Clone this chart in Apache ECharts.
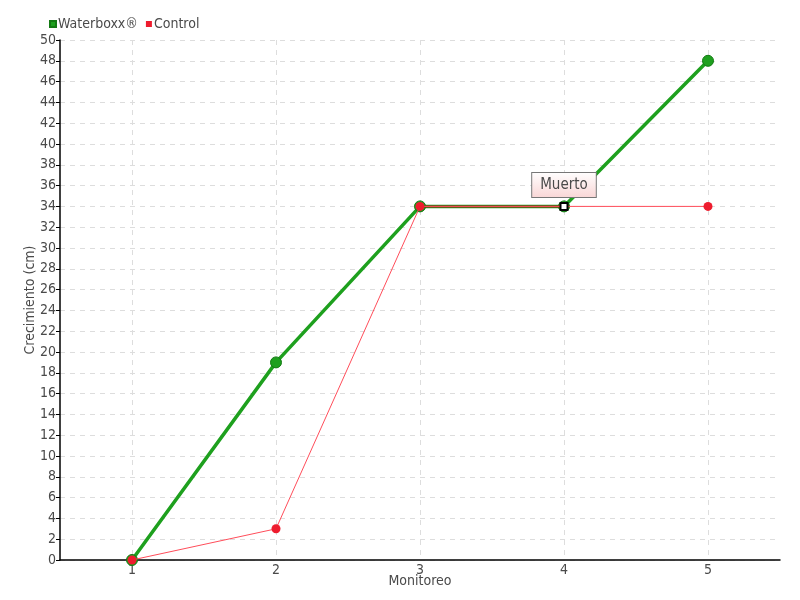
<!DOCTYPE html>
<html><head><meta charset="utf-8">
<script src="https://cdn.jsdelivr.net/npm/echarts@6/dist/echarts.min.js"></script>
<style>html,body{margin:0;padding:0;background:#fff}#c{width:800px;height:600px}</style>
</head><body><div id="c"></div>
<script>
var categories = ['1','2','3','4','5'];
var waterboxx = [0, 19, 34, 34, 48];
var control = [0, 3, 34, 34, 34];
var deadMarker = [null, null, null, 34, null];
var deadLabel = 'Muerto';
var overlap = [null, null, 34, 34, null];

var FONT = 'DejaVu Sans Condensed';
var TXT = '#4a4a4a';
var chart = echarts.init(document.getElementById('c'));
chart.setOption({
  animation: false,
  textStyle: { fontFamily: FONT },
  legend: {
    left: 44, top: 12, itemWidth: 6, itemHeight: 6, itemGap: 8,
    icon: 'rect', textStyle: { fontFamily: FONT, fontSize: 14, color: TXT, padding: [0, 0, 0, -3] },
    data: ['Waterboxx®', 'Control']
  },
  grid: { left: 60, right: 20, top: 40, bottom: 40, containLabel: false },
  xAxis: {
    type: 'category', data: categories, boundaryGap: true,
    name: 'Monitoreo', nameLocation: 'middle', nameGap: 14, nameMoveOverlap: false,
    nameTextStyle: { fontFamily: FONT, fontSize: 14, color: TXT },
    axisLine: { lineStyle: { color: '#000', width: 1.5 } },
    axisTick: { show: false, alignWithLabel: true },
    axisLabel: { fontFamily: FONT, fontSize: 14, color: TXT, margin: 3 },
    splitLine: { show: true, interval: 0, alignWithLabel: true, lineStyle: { color: '#ddd', type: [5, 5] } }
  },
  yAxis: {
    type: 'value', min: 0, max: 50, interval: 2,
    name: 'Crecimiento (cm)', nameLocation: 'middle', nameGap: 23, nameRotate: 90, nameMoveOverlap: false,
    nameTextStyle: { fontFamily: FONT, fontSize: 14, color: TXT },
    axisLine: { show: true, lineStyle: { color: '#000', width: 1.5 } },
    axisTick: { show: true, length: 4, lineStyle: { color: '#000' } },
    axisLabel: { fontFamily: FONT, fontSize: 14, color: TXT, margin: 4 },
    splitLine: { show: true, lineStyle: { color: '#ddd', type: [5, 5] } }
  },
  series: [
    {
      name: 'Waterboxx®', type: 'line', data: waterboxx, z: 2,
      symbol: 'circle', symbolSize: 11,
      lineStyle: { color: '#1ea01e', width: 3.5 },
      itemStyle: { color: '#1ea01e', borderColor: '#137a13', borderWidth: 1 }
    },
    {
      name: 'overlap', type: 'line', data: overlap, z: 3, symbol: 'none',
      lineStyle: { color: '#8a2a12', width: 2 }, silent: true
    },
    {
      name: 'Control', type: 'line', data: control, z: 4,
      symbol: 'circle', symbolSize: 9,
      lineStyle: { color: '#ff4d5a', width: 1 },
      itemStyle: { color: '#ee1c2e' }
    },
    {
      name: 'dead', type: 'line', data: deadMarker, z: 6,
      symbol: 'rect', symbolSize: 7, lineStyle: { width: 0 },
      itemStyle: { color: '#fff', borderColor: '#000', borderWidth: 2 },
      label: {
        show: true, position: 'top', distance: 5, formatter: deadLabel,
        fontFamily: FONT, fontSize: 15, color: TXT,
        backgroundColor: { type: 'linear', x: 0, y: 0, x2: 0, y2: 1,
          colorStops: [{ offset: 0, color: '#ffffff' }, { offset: 1, color: '#f9d6d6' }] },
        borderColor: '#777', borderWidth: 1, padding: [5, 8, 4, 8]
      }
    }
  ],
  color: ['#1ea01e', '#8a2a12', '#ee1c2e', '#fff']
});
</script></body></html>
